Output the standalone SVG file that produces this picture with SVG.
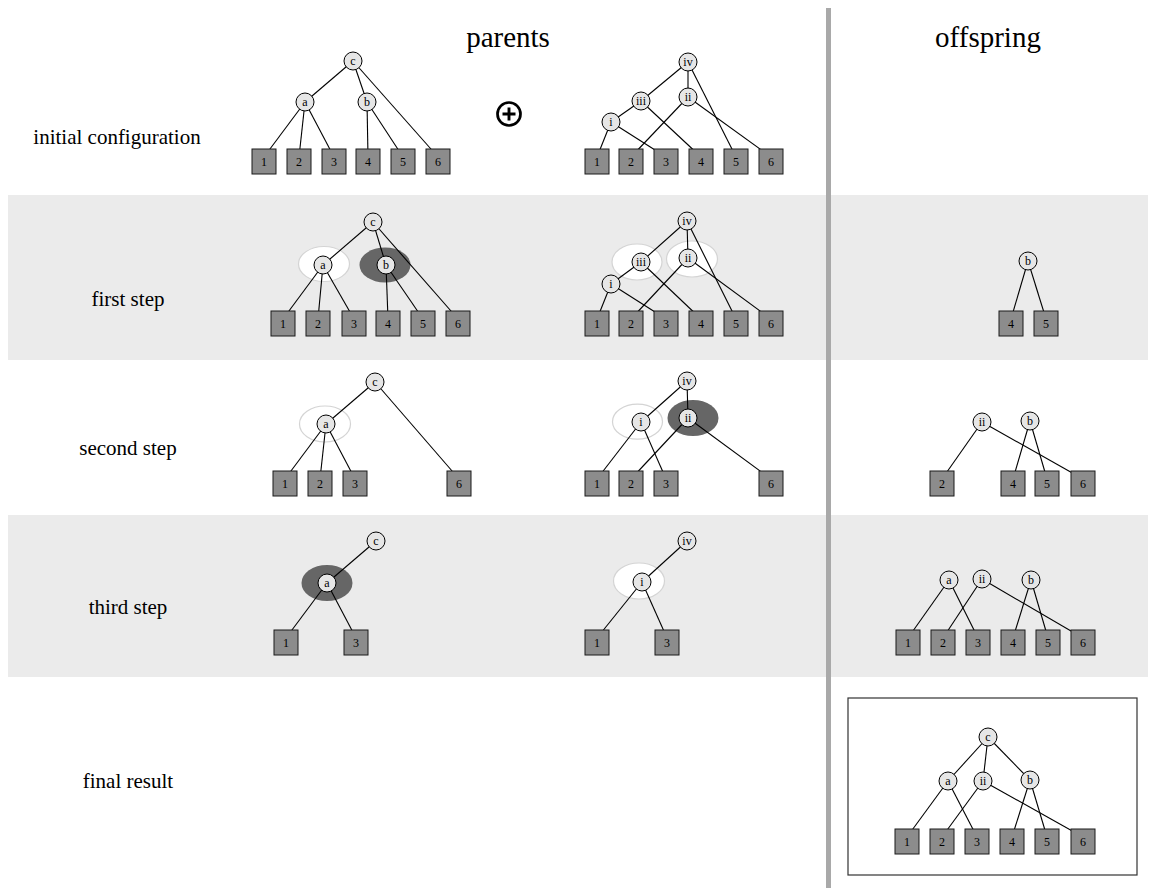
<svg xmlns="http://www.w3.org/2000/svg" width="1155" height="892" viewBox="0 0 1155 892">
<style>
.bg{fill:#ebebeb}
.div{fill:#a9a9a9}
.n circle{fill:#e6e6e6;stroke:#000;stroke-width:1}
.lf rect{fill:#8c8c8c;stroke:#1a1a1a;stroke-width:1}
.n text,.lf text{font-family:"Liberation Serif",serif;font-size:12px;text-anchor:middle;fill:#000}
.cn line{stroke:#000;stroke-width:1.1}
.hw{fill:#fff;stroke:#d4d4d4;stroke-width:1.2}
.hd{fill:#666}
.title{font-family:"Liberation Serif",serif;font-size:29px;fill:#000;text-anchor:middle}
.row{font-family:"Liberation Serif",serif;font-size:21px;fill:#000;text-anchor:middle}
</style>
<rect width="1155" height="892" fill="#fff"/>
<rect class="bg" x="8" y="195" width="1140" height="165"/>
<rect class="bg" x="8" y="515" width="1140" height="162"/>
<rect class="div" x="826" y="8" width="5" height="880"/>
<rect x="848" y="698" width="289" height="177" fill="none" stroke="#333" stroke-width="1.2"/>

<g id="labels">
<text class="title" x="508" y="47">parents</text>
<text class="title" x="988" y="47">offspring</text>
<text class="row" x="117" y="144">initial configuration</text>
<text class="row" x="128" y="306">first step</text>
<text class="row" x="128" y="455">second step</text>
<text class="row" x="128" y="614">third step</text>
<text class="row" x="128" y="788">final result</text>
</g>

<g id="plus">
<circle cx="509" cy="114" r="11.5" fill="none" stroke="#000" stroke-width="2.7"/>
<path d="M502.5 114H515.5M509 107.5V120.5" stroke="#000" stroke-width="2.9"/>
</g>

<g id="highlights">
<ellipse class="hw" cx="324" cy="264" rx="25.5" ry="17.5"/>
<ellipse class="hd" cx="385" cy="265" rx="25.5" ry="17.5"/>
<ellipse class="hw" cx="637" cy="262" rx="25" ry="18"/>
<ellipse class="hw" cx="692" cy="259" rx="25.5" ry="18"/>
<ellipse class="hw" cx="325" cy="424" rx="25.5" ry="18"/>
<ellipse class="hw" cx="637.5" cy="421.7" rx="25" ry="17.5"/>
<ellipse class="hd" cx="693" cy="418" rx="25.5" ry="18"/>
<ellipse class="hd" cx="327" cy="583" rx="25.5" ry="18"/>
<ellipse class="hw" cx="639" cy="581" rx="25.5" ry="18"/>
</g>

<g id="connectors" class="cn">
<line x1="353" y1="61" x2="305" y2="102"/>
<line x1="353" y1="61" x2="367" y2="102"/>
<line x1="353" y1="61" x2="438" y2="157"/>
<line x1="305" y1="102" x2="264" y2="157"/>
<line x1="305" y1="102" x2="299" y2="157"/>
<line x1="305" y1="102" x2="334" y2="157"/>
<line x1="367" y1="102" x2="368" y2="157"/>
<line x1="367" y1="102" x2="403" y2="157"/>

<line x1="688" y1="62" x2="641" y2="101"/>
<line x1="688" y1="62" x2="688" y2="97"/>
<line x1="688" y1="62" x2="736" y2="157"/>
<line x1="641" y1="101" x2="611" y2="122"/>
<line x1="641" y1="101" x2="701" y2="157"/>
<line x1="688" y1="97" x2="631" y2="157"/>
<line x1="688" y1="97" x2="771" y2="157"/>
<line x1="611" y1="122" x2="597" y2="157"/>
<line x1="611" y1="122" x2="666" y2="157"/>

<line x1="373" y1="222" x2="323" y2="265"/>
<line x1="373" y1="222" x2="386" y2="265"/>
<line x1="373" y1="222" x2="458" y2="319"/>
<line x1="323" y1="265" x2="283" y2="319"/>
<line x1="323" y1="265" x2="318" y2="319"/>
<line x1="323" y1="265" x2="354" y2="319"/>
<line x1="386" y1="265" x2="388" y2="319"/>
<line x1="386" y1="265" x2="423" y2="319"/>

<line x1="687" y1="221" x2="641" y2="262"/>
<line x1="687" y1="221" x2="688" y2="258"/>
<line x1="687" y1="221" x2="736" y2="319"/>
<line x1="641" y1="262" x2="611" y2="284"/>
<line x1="641" y1="262" x2="701" y2="319"/>
<line x1="688" y1="258" x2="631" y2="319"/>
<line x1="688" y1="258" x2="771" y2="319"/>
<line x1="611" y1="284" x2="597" y2="319"/>
<line x1="611" y1="284" x2="666" y2="319"/>

<line x1="375" y1="382" x2="326" y2="424"/>
<line x1="375" y1="382" x2="459" y2="479"/>
<line x1="326" y1="424" x2="285" y2="479"/>
<line x1="326" y1="424" x2="320" y2="479"/>
<line x1="326" y1="424" x2="355" y2="479"/>

<line x1="687" y1="381" x2="641" y2="422"/>
<line x1="687" y1="381" x2="688" y2="418"/>
<line x1="641" y1="422" x2="597" y2="479"/>
<line x1="641" y1="422" x2="666" y2="479"/>
<line x1="688" y1="418" x2="631" y2="479"/>
<line x1="688" y1="418" x2="771" y2="479"/>

<line x1="376" y1="541" x2="327" y2="583"/>
<line x1="327" y1="583" x2="286" y2="638"/>
<line x1="327" y1="583" x2="356" y2="638"/>

<line x1="687" y1="541" x2="642" y2="582"/>
<line x1="642" y1="582" x2="597" y2="638"/>
<line x1="642" y1="582" x2="667" y2="638"/>

<line x1="1028" y1="261" x2="1011" y2="319"/>
<line x1="1028" y1="261" x2="1046" y2="319"/>

<line x1="982" y1="422" x2="942" y2="479"/>
<line x1="982" y1="422" x2="1083" y2="479"/>
<line x1="1030" y1="421" x2="1013" y2="479"/>
<line x1="1030" y1="421" x2="1047" y2="479"/>

<line x1="949" y1="580" x2="908" y2="638"/>
<line x1="949" y1="580" x2="978" y2="638"/>
<line x1="982" y1="579" x2="943" y2="638"/>
<line x1="982" y1="579" x2="1083" y2="638"/>
<line x1="1031" y1="580" x2="1013" y2="638"/>
<line x1="1031" y1="580" x2="1048" y2="638"/>

<line x1="988" y1="737" x2="948" y2="781"/>
<line x1="988" y1="737" x2="983" y2="781"/>
<line x1="988" y1="737" x2="1030" y2="780"/>
<line x1="948" y1="781" x2="907" y2="837"/>
<line x1="948" y1="781" x2="977" y2="837"/>
<line x1="983" y1="781" x2="942" y2="837"/>
<line x1="983" y1="781" x2="1083" y2="837"/>
<line x1="1030" y1="780" x2="1012" y2="837"/>
<line x1="1030" y1="780" x2="1047" y2="837"/>
</g>

<!-- Row 1 left parent -->
<g id="r1-left">
<g id="r1L-c" class="n"><circle cx="353" cy="61" r="9"/><text x="353" y="65">c</text></g>
<g id="r1L-a" class="n"><circle cx="305" cy="102" r="9"/><text x="305" y="106">a</text></g>
<g id="r1L-b" class="n"><circle cx="367" cy="102" r="9"/><text x="367" y="106">b</text></g>
<g id="r1L-1" class="lf"><rect x="252" y="149" width="24" height="25"/><text x="264" y="166">1</text></g>
<g id="r1L-2" class="lf"><rect x="287" y="149" width="24" height="25"/><text x="299" y="166">2</text></g>
<g id="r1L-3" class="lf"><rect x="322" y="149" width="24" height="25"/><text x="334" y="166">3</text></g>
<g id="r1L-4" class="lf"><rect x="356" y="149" width="24" height="25"/><text x="368" y="166">4</text></g>
<g id="r1L-5" class="lf"><rect x="391" y="149" width="24" height="25"/><text x="403" y="166">5</text></g>
<g id="r1L-6" class="lf"><rect x="426" y="149" width="24" height="25"/><text x="438" y="166">6</text></g>
</g>

<!-- Row 1 right parent -->
<g id="r1-right">
<g id="r1R-iv" class="n"><circle cx="688" cy="62" r="9"/><text x="688" y="66">iv</text></g>
<g id="r1R-iii" class="n"><circle cx="641" cy="101" r="9"/><text x="641" y="105">iii</text></g>
<g id="r1R-ii" class="n"><circle cx="688" cy="97" r="9"/><text x="688" y="101">ii</text></g>
<g id="r1R-i" class="n"><circle cx="611" cy="122" r="9"/><text x="611" y="126">i</text></g>
<g id="r1R-1" class="lf"><rect x="585" y="149" width="24" height="25"/><text x="597" y="166">1</text></g>
<g id="r1R-2" class="lf"><rect x="619" y="149" width="24" height="25"/><text x="631" y="166">2</text></g>
<g id="r1R-3" class="lf"><rect x="654" y="149" width="24" height="25"/><text x="666" y="166">3</text></g>
<g id="r1R-4" class="lf"><rect x="689" y="149" width="24" height="25"/><text x="701" y="166">4</text></g>
<g id="r1R-5" class="lf"><rect x="724" y="149" width="24" height="25"/><text x="736" y="166">5</text></g>
<g id="r1R-6" class="lf"><rect x="759" y="149" width="24" height="25"/><text x="771" y="166">6</text></g>
</g>

<!-- Row 2 left -->
<g id="r2-left">
<g id="r2L-c" class="n"><circle cx="373" cy="222" r="9"/><text x="373" y="226">c</text></g>
<g id="r2L-a" class="n"><circle cx="323" cy="265" r="9"/><text x="323" y="269">a</text></g>
<g id="r2L-b" class="n"><circle cx="386" cy="265" r="9"/><text x="386" y="269">b</text></g>
<g id="r2L-1" class="lf"><rect x="271" y="311" width="24" height="25"/><text x="283" y="328">1</text></g>
<g id="r2L-2" class="lf"><rect x="306" y="311" width="24" height="25"/><text x="318" y="328">2</text></g>
<g id="r2L-3" class="lf"><rect x="342" y="311" width="24" height="25"/><text x="354" y="328">3</text></g>
<g id="r2L-4" class="lf"><rect x="376" y="311" width="24" height="25"/><text x="388" y="328">4</text></g>
<g id="r2L-5" class="lf"><rect x="411" y="311" width="24" height="25"/><text x="423" y="328">5</text></g>
<g id="r2L-6" class="lf"><rect x="446" y="311" width="24" height="25"/><text x="458" y="328">6</text></g>
</g>

<!-- Row 2 right -->
<g id="r2-right">
<g id="r2R-iv" class="n"><circle cx="687" cy="221" r="9"/><text x="687" y="225">iv</text></g>
<g id="r2R-iii" class="n"><circle cx="641" cy="262" r="9"/><text x="641" y="266">iii</text></g>
<g id="r2R-ii" class="n"><circle cx="688" cy="258" r="9"/><text x="688" y="262">ii</text></g>
<g id="r2R-i" class="n"><circle cx="611" cy="284" r="9"/><text x="611" y="288">i</text></g>
<g id="r2R-1" class="lf"><rect x="585" y="311" width="24" height="25"/><text x="597" y="328">1</text></g>
<g id="r2R-2" class="lf"><rect x="619" y="311" width="24" height="25"/><text x="631" y="328">2</text></g>
<g id="r2R-3" class="lf"><rect x="654" y="311" width="24" height="25"/><text x="666" y="328">3</text></g>
<g id="r2R-4" class="lf"><rect x="689" y="311" width="24" height="25"/><text x="701" y="328">4</text></g>
<g id="r2R-5" class="lf"><rect x="724" y="311" width="24" height="25"/><text x="736" y="328">5</text></g>
<g id="r2R-6" class="lf"><rect x="759" y="311" width="24" height="25"/><text x="771" y="328">6</text></g>
</g>

<!-- Row 3 left -->
<g id="r3-left">
<g id="r3L-c" class="n"><circle cx="375" cy="382" r="9"/><text x="375" y="386">c</text></g>
<g id="r3L-a" class="n"><circle cx="326" cy="424" r="9"/><text x="326" y="428">a</text></g>
<g id="r3L-1" class="lf"><rect x="273" y="471" width="24" height="25"/><text x="285" y="488">1</text></g>
<g id="r3L-2" class="lf"><rect x="308" y="471" width="24" height="25"/><text x="320" y="488">2</text></g>
<g id="r3L-3" class="lf"><rect x="343" y="471" width="24" height="25"/><text x="355" y="488">3</text></g>
<g id="r3L-6" class="lf"><rect x="447" y="471" width="24" height="25"/><text x="459" y="488">6</text></g>
</g>

<!-- Row 3 right -->
<g id="r3-right">
<g id="r3R-iv" class="n"><circle cx="687" cy="381" r="9"/><text x="687" y="385">iv</text></g>
<g id="r3R-i" class="n"><circle cx="641" cy="422" r="9"/><text x="641" y="426">i</text></g>
<g id="r3R-ii" class="n"><circle cx="688" cy="418" r="9"/><text x="688" y="422">ii</text></g>
<g id="r3R-1" class="lf"><rect x="585" y="471" width="24" height="25"/><text x="597" y="488">1</text></g>
<g id="r3R-2" class="lf"><rect x="619" y="471" width="24" height="25"/><text x="631" y="488">2</text></g>
<g id="r3R-3" class="lf"><rect x="654" y="471" width="24" height="25"/><text x="666" y="488">3</text></g>
<g id="r3R-6" class="lf"><rect x="759" y="471" width="24" height="25"/><text x="771" y="488">6</text></g>
</g>

<!-- Row 4 left -->
<g id="r4-left">
<g id="r4L-c" class="n"><circle cx="376" cy="541" r="9"/><text x="376" y="545">c</text></g>
<g id="r4L-a" class="n"><circle cx="327" cy="583" r="9"/><text x="327" y="587">a</text></g>
<g id="r4L-1" class="lf"><rect x="274" y="630" width="24" height="25"/><text x="286" y="647">1</text></g>
<g id="r4L-3" class="lf"><rect x="344" y="630" width="24" height="25"/><text x="356" y="647">3</text></g>
</g>

<!-- Row 4 right -->
<g id="r4-right">
<g id="r4R-iv" class="n"><circle cx="687" cy="541" r="9"/><text x="687" y="545">iv</text></g>
<g id="r4R-i" class="n"><circle cx="642" cy="582" r="9"/><text x="642" y="586">i</text></g>
<g id="r4R-1" class="lf"><rect x="585" y="630" width="24" height="25"/><text x="597" y="647">1</text></g>
<g id="r4R-3" class="lf"><rect x="655" y="630" width="24" height="25"/><text x="667" y="647">3</text></g>
</g>

<!-- Offspring row 2 -->
<g id="o2">
<g id="o2-b" class="n"><circle cx="1028" cy="261" r="9"/><text x="1028" y="265">b</text></g>
<g id="o2-4" class="lf"><rect x="999" y="311" width="24" height="25"/><text x="1011" y="328">4</text></g>
<g id="o2-5" class="lf"><rect x="1034" y="311" width="24" height="25"/><text x="1046" y="328">5</text></g>
</g>

<!-- Offspring row 3 -->
<g id="o3">
<g id="o3-ii" class="n"><circle cx="982" cy="422" r="9"/><text x="982" y="426">ii</text></g>
<g id="o3-b" class="n"><circle cx="1030" cy="421" r="9"/><text x="1030" y="425">b</text></g>
<g id="o3-2" class="lf"><rect x="930" y="471" width="24" height="25"/><text x="942" y="488">2</text></g>
<g id="o3-4" class="lf"><rect x="1001" y="471" width="24" height="25"/><text x="1013" y="488">4</text></g>
<g id="o3-5" class="lf"><rect x="1035" y="471" width="24" height="25"/><text x="1047" y="488">5</text></g>
<g id="o3-6" class="lf"><rect x="1071" y="471" width="24" height="25"/><text x="1083" y="488">6</text></g>
</g>

<!-- Offspring row 4 -->
<g id="o4">
<g id="o4-a" class="n"><circle cx="949" cy="580" r="9"/><text x="949" y="584">a</text></g>
<g id="o4-ii" class="n"><circle cx="982" cy="579" r="9"/><text x="982" y="583">ii</text></g>
<g id="o4-b" class="n"><circle cx="1031" cy="580" r="9"/><text x="1031" y="584">b</text></g>
<g id="o4-1" class="lf"><rect x="896" y="630" width="24" height="25"/><text x="908" y="647">1</text></g>
<g id="o4-2" class="lf"><rect x="931" y="630" width="24" height="25"/><text x="943" y="647">2</text></g>
<g id="o4-3" class="lf"><rect x="966" y="630" width="24" height="25"/><text x="978" y="647">3</text></g>
<g id="o4-4" class="lf"><rect x="1001" y="630" width="24" height="25"/><text x="1013" y="647">4</text></g>
<g id="o4-5" class="lf"><rect x="1036" y="630" width="24" height="25"/><text x="1048" y="647">5</text></g>
<g id="o4-6" class="lf"><rect x="1071" y="630" width="24" height="25"/><text x="1083" y="647">6</text></g>
</g>

<!-- Final result -->
<g id="final">
<g id="f-c" class="n"><circle cx="988" cy="737" r="9"/><text x="988" y="741">c</text></g>
<g id="f-a" class="n"><circle cx="948" cy="781" r="9"/><text x="948" y="785">a</text></g>
<g id="f-ii" class="n"><circle cx="983" cy="781" r="9"/><text x="983" y="785">ii</text></g>
<g id="f-b" class="n"><circle cx="1030" cy="780" r="9"/><text x="1030" y="784">b</text></g>
<g id="f-1" class="lf"><rect x="895" y="829" width="24" height="25"/><text x="907" y="846">1</text></g>
<g id="f-2" class="lf"><rect x="930" y="829" width="24" height="25"/><text x="942" y="846">2</text></g>
<g id="f-3" class="lf"><rect x="965" y="829" width="24" height="25"/><text x="977" y="846">3</text></g>
<g id="f-4" class="lf"><rect x="1000" y="829" width="24" height="25"/><text x="1012" y="846">4</text></g>
<g id="f-5" class="lf"><rect x="1035" y="829" width="24" height="25"/><text x="1047" y="846">5</text></g>
<g id="f-6" class="lf"><rect x="1071" y="829" width="24" height="25"/><text x="1083" y="846">6</text></g>
</g>
</svg>
